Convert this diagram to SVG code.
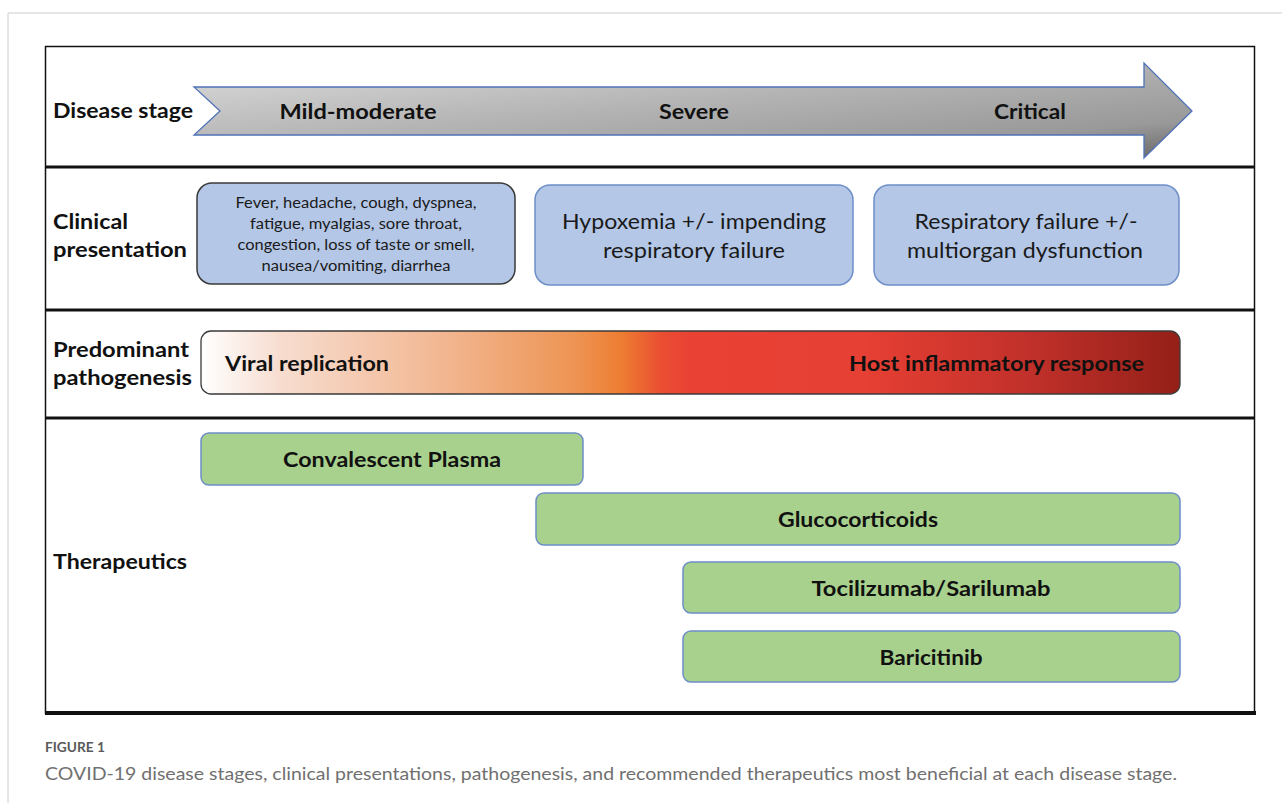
<svg xmlns="http://www.w3.org/2000/svg" width="1282" height="803" viewBox="0 0 1282 803">
<defs>
<linearGradient id="gArrow" x1="0" y1="0" x2="1" y2="1">
<stop offset="0" stop-color="#dcdcdc"/>
<stop offset="0.45" stop-color="#b4b4b4"/>
<stop offset="0.8" stop-color="#999999"/>
<stop offset="1" stop-color="#666666"/>
</linearGradient>
<linearGradient id="gPath" x1="0" y1="0" x2="1" y2="0">
<stop offset="0" stop-color="#ffffff"/>
<stop offset="0.08" stop-color="#f7ddd0"/>
<stop offset="0.25" stop-color="#f2b690"/>
<stop offset="0.38" stop-color="#ee9555"/>
<stop offset="0.43" stop-color="#ed7d31"/>
<stop offset="0.47" stop-color="#ea4e32"/>
<stop offset="0.5" stop-color="#e94235"/>
<stop offset="0.68" stop-color="#e63f33"/>
<stop offset="0.85" stop-color="#c0302a"/>
<stop offset="1" stop-color="#942018"/>
</linearGradient>
<style>
.lbl{font-family:Lato,"Liberation Sans",sans-serif;font-weight:bold;font-size:21px;fill:#111}
.stage{font-family:Lato,"Liberation Sans",sans-serif;font-weight:bold;font-size:21px;fill:#111;text-anchor:middle}
.blue{fill:#b4c7e7;stroke:#6e8ec8;stroke-width:1.5}
.blueDark{fill:#b4c7e7;stroke:#3a3a3a;stroke-width:1.5}
.small{font-family:Lato,"Liberation Sans",sans-serif;font-size:14.5px;fill:#1a1a1a;text-anchor:middle}
.mid{font-family:Lato,"Liberation Sans",sans-serif;font-size:21px;fill:#1a1a1a;text-anchor:middle}
.green{fill:#a9d18e;stroke:#6e8ec8;stroke-width:1.5}
.gtext{font-family:Lato,"Liberation Sans",sans-serif;font-weight:bold;font-size:20px;fill:#111;text-anchor:middle}
.thick{stroke:#111;stroke-width:3}
.thin{stroke:#111;stroke-width:1.5}
.cap{font-family:Lato,"Noto Sans",sans-serif}
</style>
</defs>
<rect width="1282" height="803" fill="#ffffff"/>
<g id="page-frame">
<line x1="8" y1="13" x2="1282" y2="13" stroke="#cccccc" stroke-width="1"/>
<line x1="8" y1="13" x2="8" y2="803" stroke="#cccccc" stroke-width="1"/>
</g>
<g id="table-frame">
<line class="thin" x1="45" y1="46.5" x2="1255" y2="46.5"/>
<line class="thin" x1="45.5" y1="46" x2="45.5" y2="714"/>
<line class="thin" x1="1254.5" y1="46" x2="1254.5" y2="714"/>
<line class="thick" x1="45" y1="167" x2="1255" y2="167"/>
<line class="thick" x1="45" y1="310" x2="1255" y2="310"/>
<line class="thick" x1="45" y1="418" x2="1255" y2="418"/>
<line stroke="#111" stroke-width="4" x1="45" y1="713" x2="1256" y2="713"/>
</g>
<g id="disease-stage">
<text class="lbl" x="53" y="118" textLength="140" lengthAdjust="spacingAndGlyphs">Disease stage</text>
<path d="M194,87 L1144,87 L1144,63 L1192,111 L1144,158 L1144,135 L194,135 L220,111 Z" fill="url(#gArrow)" stroke="#4f72b8" stroke-width="1.3"/>
<text class="stage" x="358" y="119" textLength="157" lengthAdjust="spacingAndGlyphs">Mild-moderate</text>
<text class="stage" x="694" y="119" textLength="70" lengthAdjust="spacingAndGlyphs">Severe</text>
<text class="stage" x="1030" y="119" textLength="72" lengthAdjust="spacingAndGlyphs">Critical</text>
</g>
<g id="clinical-presentation">
<text class="lbl" x="53" y="228.5" textLength="75" lengthAdjust="spacingAndGlyphs">Clinical</text>
<text class="lbl" x="53" y="257" textLength="134" lengthAdjust="spacingAndGlyphs">presentation</text>
</g>
<g id="clin-mild">
<rect class="blueDark" x="197" y="183" width="318" height="101" rx="15"/>
<text class="small" x="356" y="208" textLength="241" lengthAdjust="spacingAndGlyphs">Fever, headache, cough, dyspnea,</text>
<text class="small" x="356" y="229" textLength="212" lengthAdjust="spacingAndGlyphs">fatigue, myalgias, sore throat,</text>
<text class="small" x="356" y="250" textLength="237" lengthAdjust="spacingAndGlyphs">congestion, loss of taste or smell,</text>
<text class="small" x="356" y="271" textLength="189" lengthAdjust="spacingAndGlyphs">nausea/vomiting, diarrhea</text>
</g>
<g id="clin-severe">
<rect class="blue" x="535" y="185" width="318" height="100" rx="15"/>
<text class="mid" x="694" y="229" textLength="264" lengthAdjust="spacingAndGlyphs">Hypoxemia +/- impending</text>
<text class="mid" x="694" y="258" textLength="182" lengthAdjust="spacingAndGlyphs">respiratory failure</text>
</g>
<g id="clin-critical">
<rect class="blue" x="874" y="185" width="305" height="100" rx="15"/>
<text class="mid" x="1026" y="229" textLength="223" lengthAdjust="spacingAndGlyphs">Respiratory failure +/-</text>
<text class="mid" x="1025" y="258" textLength="236" lengthAdjust="spacingAndGlyphs">multiorgan dysfunction</text>
</g>
<g id="pathogenesis">
<text class="lbl" x="53" y="357" textLength="136" lengthAdjust="spacingAndGlyphs">Predominant</text>
<text class="lbl" x="53" y="385" textLength="139" lengthAdjust="spacingAndGlyphs">pathogenesis</text>
<rect x="201" y="331" width="979" height="63" rx="10" fill="url(#gPath)" stroke="#3a3a3a" stroke-width="1.3"/>
<text class="lbl" x="225" y="371" textLength="164" lengthAdjust="spacingAndGlyphs">Viral replication</text>
<text class="lbl" x="849" y="371" textLength="295" lengthAdjust="spacingAndGlyphs">Host inflammatory response</text>
</g>
<g id="therapeutics">
<text class="lbl" x="53" y="569" textLength="134" lengthAdjust="spacingAndGlyphs">Therapeutics</text>
</g>
<g id="ther-plasma">
<rect class="green" x="201" y="433" width="382" height="52" rx="8"/>
<text class="gtext" x="392" y="467" textLength="218" lengthAdjust="spacingAndGlyphs">Convalescent Plasma</text>
</g>
<g id="ther-gluco">
<rect class="green" x="536" y="493" width="644" height="52" rx="8"/>
<text class="gtext" x="858" y="527" textLength="160" lengthAdjust="spacingAndGlyphs">Glucocorticoids</text>
</g>
<g id="ther-toci">
<rect class="green" x="683" y="562" width="497" height="51" rx="8"/>
<text class="gtext" x="931" y="596" textLength="239" lengthAdjust="spacingAndGlyphs">Tocilizumab/Sarilumab</text>
</g>
<g id="ther-bari">
<rect class="green" x="683" y="631" width="497" height="51" rx="8"/>
<text class="gtext" x="931" y="665" textLength="103" lengthAdjust="spacingAndGlyphs">Baricitinib</text>
</g>
<g id="caption">
<text class="cap" x="45" y="752" font-size="13" font-weight="bold" fill="#5a5a5a" textLength="60" lengthAdjust="spacingAndGlyphs">FIGURE 1</text>
<text class="cap" x="45" y="780" font-size="18" fill="#707070" textLength="1132" lengthAdjust="spacingAndGlyphs">COVID-19 disease stages, clinical presentations, pathogenesis, and recommended therapeutics most beneficial at each disease stage.</text>
</g>
</svg>
